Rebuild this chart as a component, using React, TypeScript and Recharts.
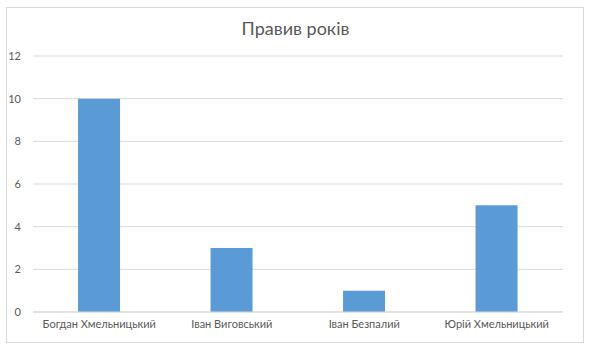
import React from 'react';
import { BarChart, Bar, XAxis, YAxis, CartesianGrid } from 'recharts';

const categories = ['Богдан Хмельницький', 'Іван Виговський', 'Іван Безпалий', 'Юрій Хмельницький'];
const years = [10, 3, 1, 5];
const yTicks = [0, 2, 4, 6, 8, 10, 12];

const data = categories.map((name, i) => ({ name, value: years[i] }));

const FONT = 'Lato, "Open Sans", sans-serif';

export default function App() {
  return (
    <div style={{ position: 'absolute', left: 0, top: 0, width: 591, height: 351, background: '#fff' }}>
      <div
        style={{
          position: 'absolute',
          left: 6,
          top: 7,
          width: 576,
          height: 334,
          border: '1px solid #d9d9d9',
          boxSizing: 'content-box',
        }}
      />
      <div
        style={{
          position: 'absolute',
          left: 0,
          top: 17,
          width: 591,
          textAlign: 'center',
          fontFamily: FONT,
          fontSize: 18,
          color: '#595959',
        }}
      >
        Правив років
      </div>
      <div style={{ position: 'absolute', left: 0, top: 0 }}>
        <BarChart
          width={591}
          height={351}
          data={data}
          margin={{ top: 56, right: 28, bottom: 9, left: 0 }}
          barCategoryGap="34%"
        >
          <CartesianGrid vertical={false} stroke="#d9d9d9" />
          <XAxis
            dataKey="name"
            tickLine={false}
            axisLine={{ stroke: '#d9d9d9' }}
            tick={{ fill: '#595959', fontSize: 11, fontFamily: FONT }}
            interval={0}
            height={30}
          />
          <YAxis
            domain={[0, 12]}
            ticks={yTicks}
            tickLine={false}
            axisLine={false}
            width={33}
            tickMargin={6}
            tick={{ fill: '#595959', fontSize: 11, fontFamily: FONT }}
          />
          <Bar dataKey="value" fill="#5b9bd5" isAnimationActive={false} />
        </BarChart>
      </div>
    </div>
  );
}
